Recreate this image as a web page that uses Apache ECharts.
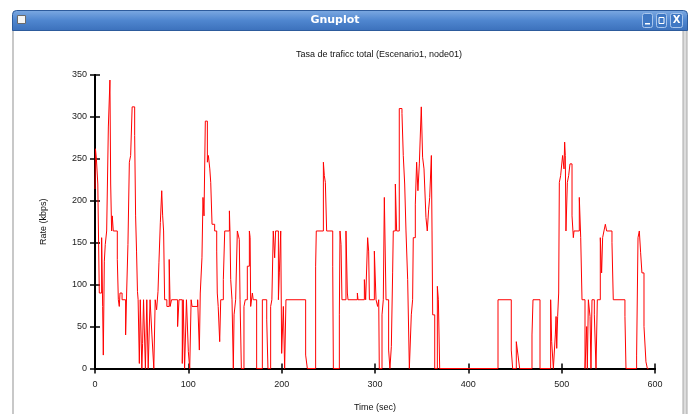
<!DOCTYPE html>
<html>
<head>
<meta charset="utf-8">
<script src="https://cdn.jsdelivr.net/npm/echarts@6/dist/echarts.min.js"></script>
<style>
  html, body { margin: 0; padding: 0; background: #fff; }
  #chart { width: 691px; height: 414px; }
</style>
</head>
<body>
<div id="chart"></div>
<script>
// data (time in sec, rate in kbps, held until next time)
const times = [
  0, 0.5, 1.5, 3, 4.6, 7.1, 8.2, 8.9, 10, 11, 12.5, 14.3, 16, 16.8, 17.8, 18.5, 19.6,
  23.9, 25, 26, 26.8, 29, 32.8, 33.9, 35.3, 36.8, 38.2, 39.8, 42.5, 43.5, 44.5, 45.5,
  46.2, 47.5, 48.5, 50.2, 51, 52, 54, 55.5, 57, 59, 61, 63, 64.5, 66, 67.5, 68.5, 70,
  71.5, 72.5, 73.5, 74.6, 77, 79.5, 80.5, 82, 88.5, 90, 93.5, 94.5, 96, 98, 100, 101.5,
  103, 104, 110, 111.8, 112.8, 114.6, 115.7, 116.8, 118.2,
  120.4, 121.5, 123, 124, 125.4, 128.2, 130.4, 131, 132, 133.6, 134.7, 137.5, 139, 144,
  144.6, 145.4, 146.8, 148.2, 149, 150.7, 152.5, 154.6, 155.4, 156.8, 159.6, 161, 163.2,
  165.4, 166.2, 166.8, 168.6, 169.5, 173.2, 179.3, 184, 185.3, 188.2, 189.5, 191, 192.5,
  193.5, 196.5, 197.5, 199, 200, 201.8, 203.2, 204.6, 225.7, 227.5, 236.4,
  237.1, 244.7, 245.7, 246.8, 248.2, 254.7, 255.4, 261.8, 262.5, 263.6, 264.6, 268.9,
  270.4, 271.1, 281.1, 281.8, 288.6, 290, 292.1, 293.2, 294, 299.3, 301.1, 302.8, 304,
  304.6, 307.5, 308.9, 310, 311.8, 314.6, 316, 317.5, 318.9, 319.6, 321.8, 323.2, 326,
  328.9, 330.3, 331.8, 333.2, 335, 336.8, 338.9, 340.3, 341, 343.2, 344.6, 346, 347.5,
  349.6, 351, 352.5, 354.6, 356, 357.5, 358.6, 360.4, 361.1, 361.8, 364, 366.8, 367.9,
  369.3, 431.8, 446, 447.5, 451.4, 453.2, 455, 468.2, 469.3, 476.8, 488.2, 489.3, 491.1,
  493.2, 494, 494.7, 495.7, 496.8, 497.5, 498.9, 501, 502.5, 503.2, 503.9, 504.6, 506.1,
  507.5, 508.9, 511.1, 512.5, 513.2, 518.9, 520.4, 521.8, 525, 526.8, 527.5, 528.6, 530.4,
  531.4, 532.5, 535, 536.8, 538.2, 541.4, 542.8, 543.9, 545.3, 546.8, 548.2, 553.9, 555.3,
  567.8, 568.9, 580.3, 581.8, 583.2, 584.6, 586, 588.2, 590.3, 591.8, 593
];
const rates = [
  214, 262, 250, 220, 90, 156, 74, 16, 128, 148, 164, 288, 344, 220, 164, 182, 164,
  130, 82, 74, 90, 82, 40, 90, 148, 246, 254, 312, 278, 182, 140, 92,
  82, 6, 82, 0, 30, 82, 0, 82, 0, 82, 40, 0, 82, 70, 92, 126, 174,
  212, 182, 164, 82, 74, 130, 74, 82, 50, 82, 6, 82, 0, 82, 20, 0,
  82, 74, 82, 22, 90, 132, 204, 182, 295,
  246, 254, 238, 222, 172, 164, 140, 90, 74, 32, 82, 106, 164, 188,
  164, 106, 82, 0, 64, 82, 164, 154, 82, 0, 74, 82, 122,
  164, 156, 74, 90, 82, 0, 82, 58, 0, 74, 82, 164, 132,
  164, 82, 114, 164, 18, 74, 0, 82, 16, 0, 122,
  164, 246, 230, 222, 164, 122, 0, 64, 164, 148, 82, 164,
  90, 82, 90, 82, 106, 82, 156, 140, 82, 140, 82, 74, 82,
  0, 64, 82, 204, 82, 22, 0, 26, 114, 164, 220, 164, 310,
  304, 254, 220, 164, 106, 0, 64, 82, 156, 196, 246, 212, 244,
  312, 252, 238, 180, 164, 190, 204, 254, 164, 64, 0, 98, 82,
  0, 82, 22, 0, 32, 16, 0, 40, 82, 0, 82, 32, 0,
  40, 62, 24, 62, 90, 222, 230, 254, 238, 270, 254, 164, 222,
  230, 244, 182, 156, 164, 204, 156, 82, 0, 50, 0, 82, 62,
  0, 82, 64, 0, 82, 156, 114, 156, 164, 172, 164, 150, 82,
  62, 0, 16, 156, 164, 138, 114, 50, 8, 0, 0
];
const xTicks = { min: 0, max: 600, step: 100 };
const yTicks = { min: 0, max: 350, step: 50 };

const font = 'Liberation Sans';
const points = times.map((t, i) => [t, rates[i]]);

const chart = echarts.init(document.getElementById('chart'));

const axisCommon = {
  axisLine: { show: true, lineStyle: { color: '#000', width: 2 } },
  axisTick: { show: true, inside: true, length: 5, lineStyle: { color: '#000', width: 1.5 } },
  splitLine: { show: false }
};

let option = {
  animation: false,
  backgroundColor: '#fff',
  title: {
    text: 'Tasa de traficc total (Escenario1, node01)',
    left: 374, top: 45, textAlign: 'center',
    textStyle: { fontFamily: font, fontSize: 9, fontWeight: 'normal', color: '#111' }
  },
  grid: { left: 95, top: 75, width: 560, height: 293.5, containLabel: false, outerBoundsMode: 'none' },
  xAxis: [
    Object.assign({
      type: 'value', position: 'bottom', min: xTicks.min, max: xTicks.max, interval: xTicks.step,
      name: 'Time (sec)', nameLocation: 'middle', nameGap: 35,
      nameTextStyle: { fontFamily: font, fontSize: 9, color: '#111' },
      axisLabel: { fontFamily: font, fontSize: 9, color: '#222', margin: 12 }
    }, axisCommon),
    Object.assign({
      type: 'value', position: 'top', min: xTicks.min, max: xTicks.max, interval: xTicks.step,
      axisLabel: { show: false }
    }, axisCommon)
  ],
  yAxis: [
    Object.assign({
      type: 'value', position: 'left', min: yTicks.min, max: yTicks.max, interval: yTicks.step,
      name: 'Rate (kbps)', nameLocation: 'middle', nameGap: 47,
      nameTextStyle: { fontFamily: font, fontSize: 9, color: '#111' },
      axisLabel: { fontFamily: font, fontSize: 9, color: '#222', margin: 8 }
    }, axisCommon),
    Object.assign({
      type: 'value', position: 'right', min: yTicks.min, max: yTicks.max, interval: yTicks.step,
      axisLabel: { show: false }
    }, axisCommon)
  ],
  series: [{
    type: 'line',
    step: 'end',
    data: points,
    showSymbol: false,
    lineStyle: { color: '#ff0000', width: 1 },
    itemStyle: { color: '#ff0000' },
    clip: true
  }],
  graphic: [
    // window frame
    { type: 'rect', shape: { x: 12, y: 28, width: 2, height: 390 }, style: { fill: '#c8c8c8' }, silent: true },
    { type: 'rect', shape: { x: 683, y: 28, width: 4, height: 390 }, style: { fill: '#dcdcdc', stroke: '#a8a8a8', lineWidth: 1 }, silent: true },
    // title bar
    {
      type: 'rect', shape: { x: 12.5, y: 10.5, width: 675, height: 20, r: [4, 4, 0, 0] },
      style: {
        fill: new echarts.graphic.LinearGradient(0, 0, 0, 1, [
          { offset: 0, color: '#7eaae2' },
          { offset: 0.5, color: '#4f86cf' },
          { offset: 1, color: '#3b70bb' }
        ]),
        stroke: '#2d5b9c', lineWidth: 1
      },
      silent: true
    },
    { type: 'rect', shape: { x: 17.5, y: 15.5, width: 8, height: 8 }, style: { fill: '#f4f4f4', stroke: '#6a6a6a', lineWidth: 1 }, silent: true },
    {
      type: 'text', x: 335, y: 20,
      style: { text: 'Gnuplot', fill: '#fff', font: 'bold 11px "DejaVu Sans"', align: 'center', verticalAlign: 'middle' },
      silent: true
    },
    // window buttons
    { type: 'rect', shape: { x: 642.5, y: 13.5, width: 10, height: 14, r: 2 }, style: { fill: '#3f78c4', stroke: '#a9c6ec', lineWidth: 1 }, silent: true },
    { type: 'rect', shape: { x: 656.5, y: 13.5, width: 10, height: 14, r: 2 }, style: { fill: '#3f78c4', stroke: '#a9c6ec', lineWidth: 1 }, silent: true },
    { type: 'rect', shape: { x: 670.5, y: 13.5, width: 12, height: 14, r: 2 }, style: { fill: '#3f78c4', stroke: '#a9c6ec', lineWidth: 1 }, silent: true },
    { type: 'rect', shape: { x: 645, y: 23, width: 5, height: 1.5 }, style: { fill: '#fff' }, silent: true },
    { type: 'rect', shape: { x: 659, y: 17.5, width: 5, height: 6 }, style: { fill: 'none', stroke: '#fff', lineWidth: 1 }, silent: true },
    {
      type: 'text', x: 676.5, y: 20.5,
      style: { text: 'X', fill: '#fff', font: 'bold 10px "DejaVu Sans"', align: 'center', verticalAlign: 'middle' },
      silent: true
    }
  ]
};

chart.setOption(option);
</script>
</body>
</html>
